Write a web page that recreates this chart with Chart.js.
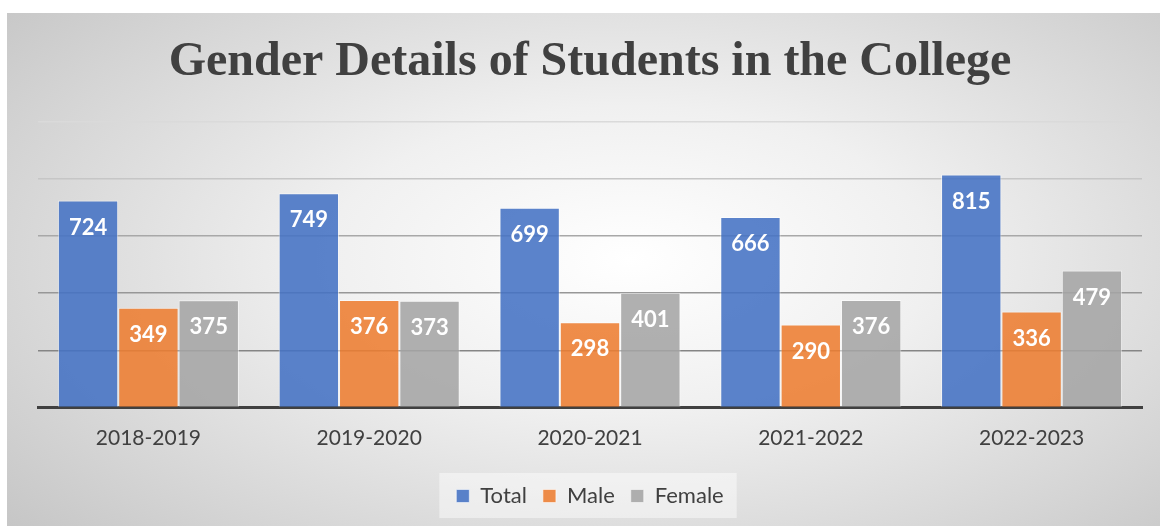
<!DOCTYPE html>
<html>
<head>
<meta charset="utf-8">
<script src="https://cdn.jsdelivr.net/npm/chart.js@4/dist/chart.umd.min.js"></script>
<style>
  html, body { margin: 0; padding: 0; background: #fff; }
  #wrap {
    position: absolute; left: 7px; top: 13px; width: 1153px; height: 513px;
    background: radial-gradient(ellipse 75% 85% at 54% 48%, #ffffff 0%, #f0f0f0 35%, #d4d4d4 75%, #c2c2c2 100%);
  }
</style>
</head>
<body>
<div id="wrap"><canvas id="genderChart" width="1153" height="513"></canvas></div>
<script>
// Gender details — grouped bars

const years  = ['2018-2019', '2019-2020', '2020-2021', '2021-2022', '2022-2023'];
const total  = [724, 749, 699, 666, 815];
const male   = [349, 376, 298, 290, 336];
const female = [375, 373, 401, 376, 479];

const yTicks = [0, 200, 400, 600, 800, 1000];

const TXT = '#404040';

// white value labels inside the top of each bar
const barLabels = {
  id: 'barLabels',
  afterDatasetsDraw(chart) {
    const ctx = chart.ctx;
    ctx.save();
    ctx.font = "bold 22px Lato, 'Open Sans', sans-serif";
    ctx.fillStyle = '#ffffff';
    ctx.textAlign = 'center';
    ctx.textBaseline = 'middle';
    chart.data.datasets.forEach((ds, i) => {
      chart.getDatasetMeta(i).data.forEach((bar, j) => {
        ctx.fillText(ds.data[j], bar.x, bar.y + 27);
      });
    });
    ctx.restore();
  },
};

// faint box behind the legend
const legendBox = {
  id: 'legendBox',
  beforeDraw(chart) {
    const lg = chart.legend;
    if (!lg || !lg.legendHitBoxes.length) return;
    const hb = lg.legendHitBoxes;
    const x0 = hb[0].left - 17;
    const x1 = hb[hb.length - 1].left + hb[hb.length - 1].width + 13;
    const cy = hb[0].top + hb[0].height / 2;
    const ctx = chart.ctx;
    ctx.save();
    ctx.fillStyle = 'rgba(255,255,255,0.45)';
    ctx.fillRect(x0, cy - 23, x1 - x0, 45);
    ctx.restore();
  },
};

const gridCols = { 1000: '#dadada', 800: '#c6c6c6', 600: '#a8a8a8', 400: '#979797', 200: '#858585' };

new Chart(document.getElementById('genderChart'), {
  type: 'bar',
  data: {
    labels: years,
    datasets: [
      { label: 'Total',  data: total,  backgroundColor: 'rgba(68,114,196,0.88)' },
      { label: 'Male',   data: male,   backgroundColor: 'rgba(237,125,49,0.88)' },
      { label: 'Female', data: female, backgroundColor: 'rgba(165,165,165,0.88)' },
    ].map(d => Object.assign(d, {
      borderColor: 'rgba(255,255,255,0.55)',
      borderWidth: 1,
      categoryPercentage: 0.82,
      barPercentage: 1.0,
    })),
  },
  options: {
    responsive: false,
    animation: false,
    layout: { padding: { left: 31, right: 18, top: 0, bottom: 9 } },
    plugins: {
      title: {
        display: true,
        text: 'Gender Details of Students in the College',
        color: TXT,
        font: { family: "'Liberation Serif', 'Times New Roman', serif", size: 48, weight: 'bold' },
        padding: { top: 21, bottom: 30 },
      },
      legend: {
        position: 'bottom',
        labels: {
          color: TXT,
          font: { family: "Lato, 'Open Sans', sans-serif", size: 22 },
          boxWidth: 13, boxHeight: 13,
          padding: 16,
        },
      },
      tooltip: { enabled: false },
    },
    scales: {
      x: {
        grid: { display: false, drawTicks: false },
        border: { display: true, color: '#404040', width: 3 },
        ticks: { color: TXT, font: { family: "Lato, 'Open Sans', sans-serif", size: 21, lineHeight: 0.74 }, padding: 23 },
      },
      y: {
        min: 0, max: 1000,
        afterBuildTicks: s => { s.ticks = yTicks.map(v => ({ value: v })); },
        ticks: { display: false },
        border: { display: false },
        grid: {
          drawTicks: false,
          lineWidth: 1.5,
          color: c => gridCols[c.tick.value] || 'rgba(0,0,0,0)',
        },
      },
    },
  },
  plugins: [legendBox, barLabels],
});
</script>
</body>
</html>
